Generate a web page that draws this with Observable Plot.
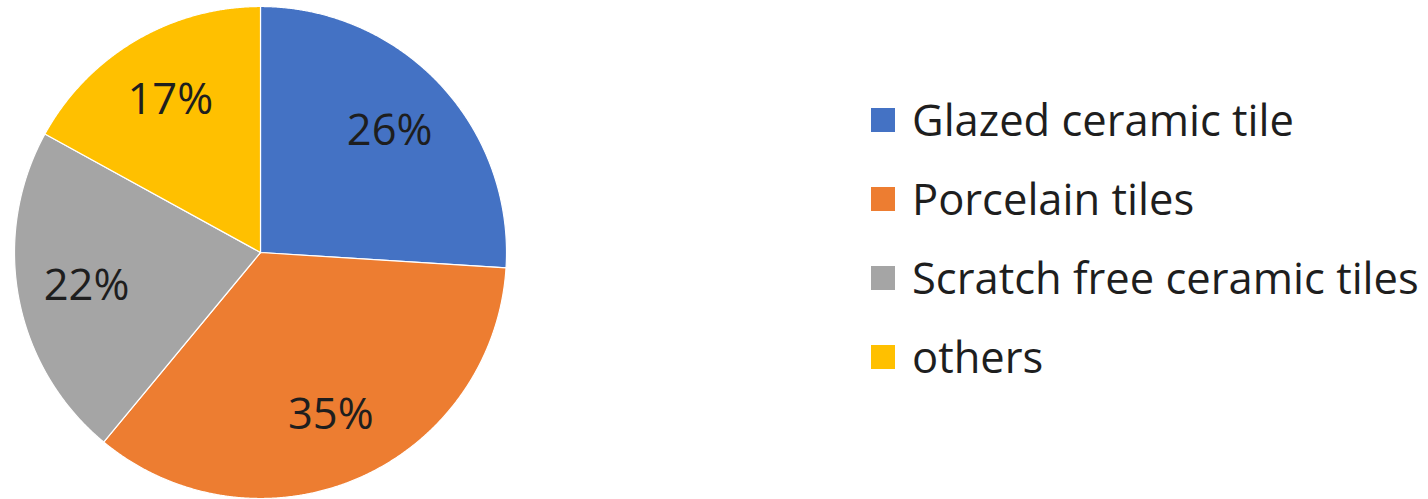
<!DOCTYPE html>
<html><head><meta charset="utf-8">
<script src="https://cdn.jsdelivr.net/npm/d3@7"></script>
<script src="https://cdn.jsdelivr.net/npm/@observablehq/plot@0.6"></script>
<style>
body{margin:0;background:#fff;}
#wrap{position:relative;width:1428px;height:499px;overflow:hidden;background:#fff;}
#legend{position:absolute;left:871px;top:80px;}
.lg-swatches{font-family:"Open Sans",sans-serif;font-size:43.5px;color:#1e1e1e;margin:0;}
.lg-swatch{height:79px;padding:0;}
.lg-swatch > svg{margin-right:17px;}
</style></head><body>
<div id="wrap"><div id="chart"></div><div id="legend"></div></div>
<script>
const categories = ["Glazed ceramic tile", "Porcelain tiles", "Scratch free ceramic tiles", "others"];
const shares = [26, 35, 22, 17];
const labels = ["26%", "35%", "22%", "17%"];
const colors = ["#4472C4", "#ED7D31", "#A5A5A5", "#FFC000"];

const W = 1428, H = 499, CX = 260, CY = 252, R = 246;
const table = categories.map((c, i) => ({category: c, value: shares[i], label: labels[i]}));
const arcs = d3.pie().sort(null).value(d => d.value)(table);

// polygon vertices of each slice in unit-radius data coordinates
const slicePts = [];
for (const a of arcs) {
  const c = a.data.category;
  slicePts.push({category: c, x: 0, y: 0});
  const n = Math.max(2, Math.ceil((a.endAngle - a.startAngle) / 0.004));
  for (let k = 0; k <= n; k++) {
    const t = a.startAngle + (a.endAngle - a.startAngle) * k / n;
    slicePts.push({category: c, x: Math.sin(t), y: Math.cos(t)});
  }
  slicePts.push({category: c, x: 0, y: 0});
}
const labelPts = arcs.map(a => {
  const m = (a.startAngle + a.endAngle) / 2;
  return {label: a.data.label, x: 0.72 * Math.sin(m), y: 0.72 * Math.cos(m)};
});

const color = {domain: categories, range: colors};

const plot = Plot.plot({
  width: W, height: H,
  margin: 0,
  x: {domain: [-CX / R, (W - CX) / R], axis: null},
  y: {domain: [-(H - CY) / R, CY / R], axis: null},
  color,
  style: {fontFamily: "'Open Sans', sans-serif", background: "#fff"},
  marks: [
    Plot.line(slicePts, {x: "x", y: "y", z: "category", fill: "category", stroke: "#fff", strokeWidth: 1.2, curve: "linear"}),
    Plot.text(labelPts, {x: "x", y: "y", text: "label", fontSize: 43.5, fill: "#1e1e1e"})
  ]
});
document.getElementById("chart").appendChild(plot);

const legend = Plot.legend({color, columns: 1, swatchSize: 24, className: "lg", width: 560});
document.getElementById("legend").appendChild(legend);
</script>
</body></html>
